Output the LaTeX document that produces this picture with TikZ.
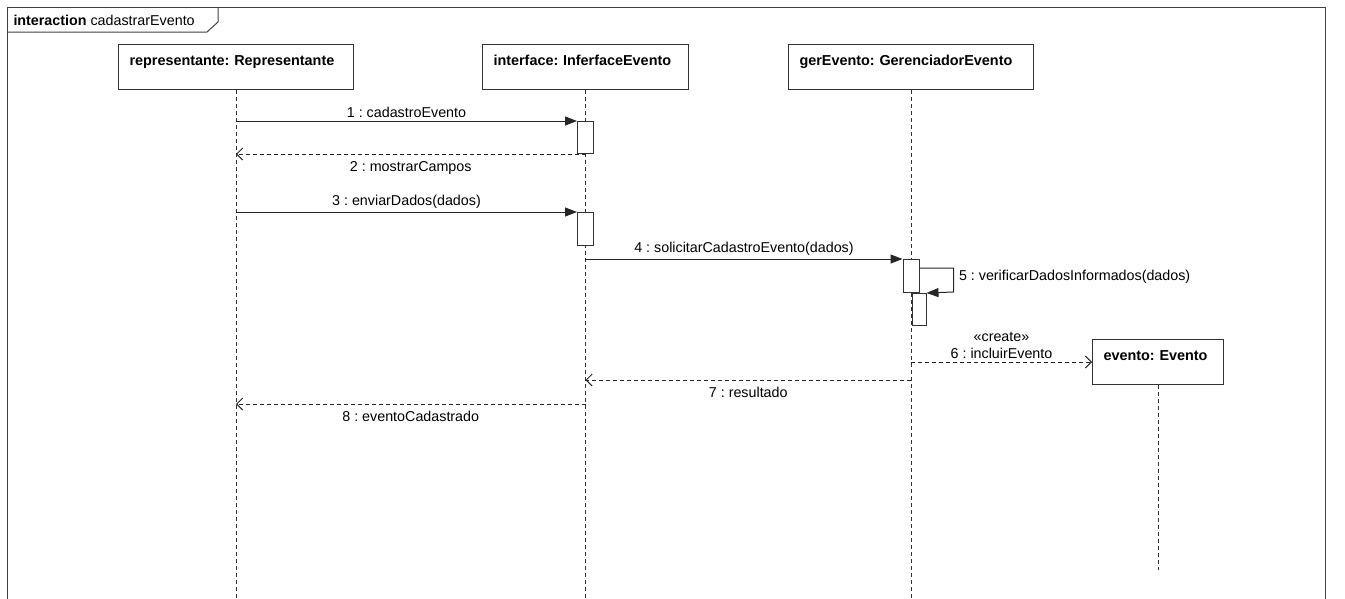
\documentclass[tikz,border=0pt]{standalone}
\usepackage{fontspec}
\setmainfont{Liberation Sans}
\usetikzlibrary{arrows.meta,positioning}
\frenchspacing

\begin{document}
\begin{tikzpicture}[
  x=1pt, y=-1pt,
  font=\fontsize{14.3}{17}\selectfont,
  line width=1pt,
  head/.style={draw=black!80, fill=white, anchor=north west, align=left, font=\fontsize{14.4}{17}\selectfont\bfseries, inner xsep=11pt, inner ysep=0pt, text height=21pt, text depth=24pt},
  act/.style={draw=black!80, fill=white, anchor=north, minimum width=16pt, inner sep=0pt},
  life/.style={draw=black!80, dash pattern=on 4pt off 3pt},
  call/.style={-{Triangle[length=12pt,width=9pt]}, black!85},
  ret/.style={-{Straight Barb[length=6pt,width=12pt]}, black!85, dash pattern=on 4pt off 3pt},
  lbl/.style={inner sep=2pt, text=black},
]
\useasboundingbox (0,0) rectangle (1345,598);
% frame
\draw[black!75] (7,7) rectangle (1325,615);
\draw[black!75] (7,32) -- (207,32) -- (218,22) -- (218,7);
\node[anchor=base west, inner sep=0pt] (tab) at (13,25) {\textbf{interaction} cadastrarEvento};
% lifeline heads
\node[head, text width=213pt] (rep) at (118,44) {representante: Representante};
\node[head, text width=184pt, right=128pt of rep] (iface) {interface: InferfaceEvento};
\node[head, text width=223pt, right=99pt of iface] (ger) {gerEvento: GerenciadorEvento};
% lifelines
\foreach \n in {rep,iface,ger}
  \draw[life] (\n.south) -- (\n.south |- 0,615);
% activations
\node[act, minimum height=32pt] (a1) at (iface.south |- 0,121) {};
\node[act, minimum height=33pt] (a2) at (iface.south |- 0,212) {};
\node[act, minimum height=33pt] (a3) at (ger.south |- 0,259) {};
\node[act, minimum width=14pt, minimum height=32pt, xshift=8pt] (a4) at (a3.south) {};
% created object
\node[head, text width=109pt] (ev) at (1092,339) {evento: Evento};
\draw[life] (ev.south) -- (ev.south |- 0,570);
% messages
\draw[call] (rep.south |- a1.north) -- node[above=1pt, lbl] {1 : cadastroEvento} (a1.north west);
\draw[ret] (a1.south) -- node[below=5pt, lbl] {2 : mostrarCampos} (rep.south |- a1.south);
\draw[call] (rep.south |- a2.north) -- node[above=1pt, lbl] {3 : enviarDados(dados)} (a2.north west);
\draw[call] (iface.south |- a3.north) -- node[above=1pt, lbl] {4 : solicitarCadastroEvento(dados)} (a3.north west);
\draw[call] ([yshift=-9pt]a3.north east) -- ++(34,0) -- node[right=3pt, lbl, yshift=3pt] (m5) {5 : verificarDadosInformados(dados)} ++(0,24) -- (a4.north east);
\draw[ret] (ger.south |- ev.west) -- node[above=1pt, lbl, align=center] {«create»\\[0pt]6 : incluirEvento} (ev.west);
\draw[ret] (ger.south |- 0,380) -- node[below=5pt, lbl] {7 : resultado} (iface.south |- 0,380);
\draw[ret] (iface.south |- 0,404) -- node[below=5pt, lbl] {8 : eventoCadastrado} (rep.south |- 0,404);
\end{tikzpicture}
\end{document}
